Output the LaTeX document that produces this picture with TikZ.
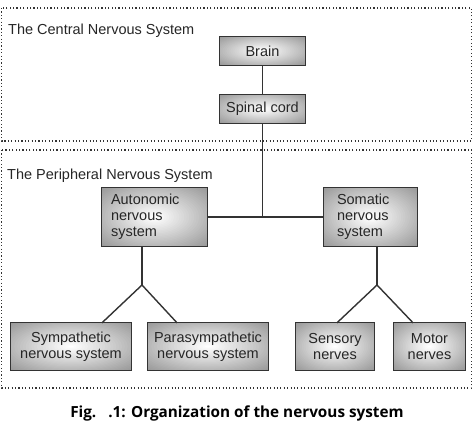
\documentclass[tikz,border=0pt]{standalone}
\usepackage{fontspec}
\setmainfont{Liberation Sans}
\newfontfamily\capfont{Open Sans}
\usetikzlibrary{calc,backgrounds}
\definecolor{edge}{HTML}{333333}
\definecolor{shadeout}{HTML}{9A9A9A}
\definecolor{txt}{HTML}{262626}
\tikzset{
  box/.style={inner sep=0pt, font=\fontsize{14.5}{16}\selectfont, text=txt},
  frame/.style={draw=edge, line width=1.3pt},
  conn/.style={draw=edge, line width=1.4pt},
  region/.style={draw=black!80, line width=1.2pt, dash pattern=on 1.1pt off 2.3pt},
  lbl/.style={font=\fontsize{14.5}{16}\selectfont, text=txt, inner sep=0pt}
}
\begin{document}
\begin{tikzpicture}[x=1pt,y=-1pt]
\useasboundingbox (0,0) rectangle (474,421);
% regions
\draw[region] (1.5,8) rectangle (471.5,141);
\draw[region] (1.5,150) rectangle (471.5,388);
\node[lbl, anchor=base west] (cnslbl) at (8,34) {The Central Nervous System};
\node[lbl, anchor=base west] (pnslbl) at (7,179) {The Peripheral Nervous System};
% boxes
\node[box, minimum width=85pt, minimum height=28pt] (brain) at (262.5,51) {Brain};
\node[box, minimum width=85pt, minimum height=28pt] (spinal) at (262.5,109) {Spinal cord};
\node[box, minimum width=105pt, minimum height=58pt, text width=87pt, align=left] (auto) at (154.5,217) {Autonomic\\nervous\\system};
\node[box, minimum width=93pt, minimum height=58pt, text width=67pt, align=left] (soma) at (370.5,217) {Somatic\\nervous\\system};
\node[box, minimum width=120pt, minimum height=47pt, align=center] (symp) at (71,346.5) {Sympathetic\\nervous system};
\node[box, minimum width=120pt, minimum height=47pt, align=center] (para) at (208,346.5) {Parasympathetic\\nervous system};
\node[box, minimum width=78pt, minimum height=47pt, align=center] (sens) at (335,346.5) {Sensory\\nerves};
\node[box, minimum width=71pt, minimum height=47pt, align=center] (motor) at (429.5,346.5) {Motor\\nerves};
\begin{scope}[on background layer]
\foreach \n/\w/\h in {brain/85/28,spinal/85/28,auto/105/58,soma/93/58,symp/120/47,para/120/47,sens/78/47,motor/71/47}{
  \begin{scope}
  \clip (\n.south west) rectangle (\n.north east);
  \foreach \k in {0,...,29}{
    \pgfmathsetmacro\f{1.42*(1-\k/30)}
    \pgfmathsetmacro\p{100*\k/29}
    \fill[white!\p!shadeout] (\n.center) ellipse [x radius=\f*\w/2, y radius=\f*\h/2];
  }
  \end{scope}
  \draw[frame] (\n.south west) rectangle (\n.north east);
}
\end{scope}
% junctions
\coordinate (trunk) at (262.5,217);
\coordinate (ajoin) at (142,285);
\coordinate (sjoin) at (377,285);
% connectors
\draw[conn] (brain) -- (spinal);
\draw[conn] (spinal) -- (trunk);
\draw[conn] (auto.east) -- (soma.west);
\draw[conn] (ajoin |- auto.south) -- (ajoin);
\draw[conn] ([xshift=31pt]symp.north) -- (ajoin) -- ([xshift=-31pt]para.north);
\draw[conn] (sjoin |- soma.south) -- (sjoin);
\draw[conn] ([xshift=2pt]sens.north) -- (sjoin) -- ([xshift=-16.5pt]motor.north);
% caption
\node[inner sep=0pt, anchor=base, font=\capfont\bfseries\fontsize{15.3}{18}\selectfont] (cap) at (237,417) {Fig.\hspace{12pt}.1: Organization of the nervous system};
\end{tikzpicture}
\end{document}
